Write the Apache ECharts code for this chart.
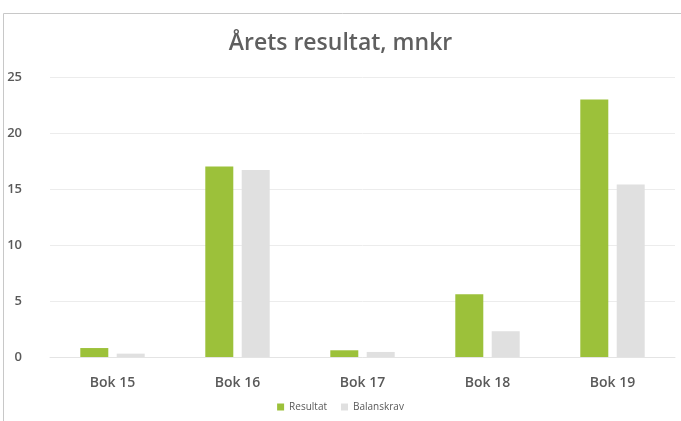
<!DOCTYPE html>
<html>
<head>
<meta charset="utf-8">
<script src="https://cdn.jsdelivr.net/npm/echarts@6/dist/echarts.min.js"></script>
<style>
html, body { margin: 0; padding: 0; background: #fff; }
#chart { width: 681px; height: 421px; }
</style>
</head>
<body>
<div id="chart"></div>
<script>
// data
var categories = ['Bok 15', 'Bok 16', 'Bok 17', 'Bok 18', 'Bok 19'];
var resultat = [0.8, 17.0, 0.6, 5.6, 23.0];
var balanskrav = [0.3, 16.7, 0.45, 2.3, 15.4];

var chart = echarts.init(document.getElementById('chart'));
var option = {
    animation: false,
    textStyle: { fontFamily: 'Open Sans' },
    graphic: [{
        type: 'rect',
        shape: { x: 3.5, y: 13.5, width: 690, height: 420 },
        style: { fill: 'none', stroke: '#c8c8c8', lineWidth: 1 },
        silent: true
    }],
    title: {
        text: 'Årets resultat, mnkr',
        left: 'center',
        top: 27,
        textStyle: { fontSize: 23, fontWeight: 600, color: '#5f5f5f', fontFamily: 'Open Sans' }
    },
    legend: {
        bottom: 4,
        left: 'center',
        itemWidth: 7,
        itemHeight: 7,
        itemGap: 14,
        icon: 'rect',
        textStyle: { fontSize: 10, color: '#595959' },
        data: ['Resultat', 'Balanskrav']
    },
    grid: { left: 50, right: 6, top: 77, bottom: 64 },
    xAxis: {
        type: 'category',
        data: categories,
        axisLine: { lineStyle: { color: '#e4e4e4' } },
        axisTick: { show: false },
        axisLabel: { color: '#595959', fontSize: 14, fontWeight: 600, margin: 19 }
    },
    yAxis: {
        type: 'value',
        min: 0,
        max: 25,
        interval: 5,
        axisLabel: { color: '#595959', fontSize: 13, fontWeight: 600, margin: 28 },
        splitLine: { lineStyle: { color: '#ececec' } }
    },
    series: [{
        name: 'Resultat',
        type: 'bar',
        data: resultat,
        barWidth: 28,
        barGap: '30%',
        itemStyle: { color: '#9cc13a' }
    }, {
        name: 'Balanskrav',
        type: 'bar',
        data: balanskrav,
        barWidth: 28,
        itemStyle: { color: '#e0e0e0' }
    }]
};
chart.setOption(option);
</script>
</body>
</html>
